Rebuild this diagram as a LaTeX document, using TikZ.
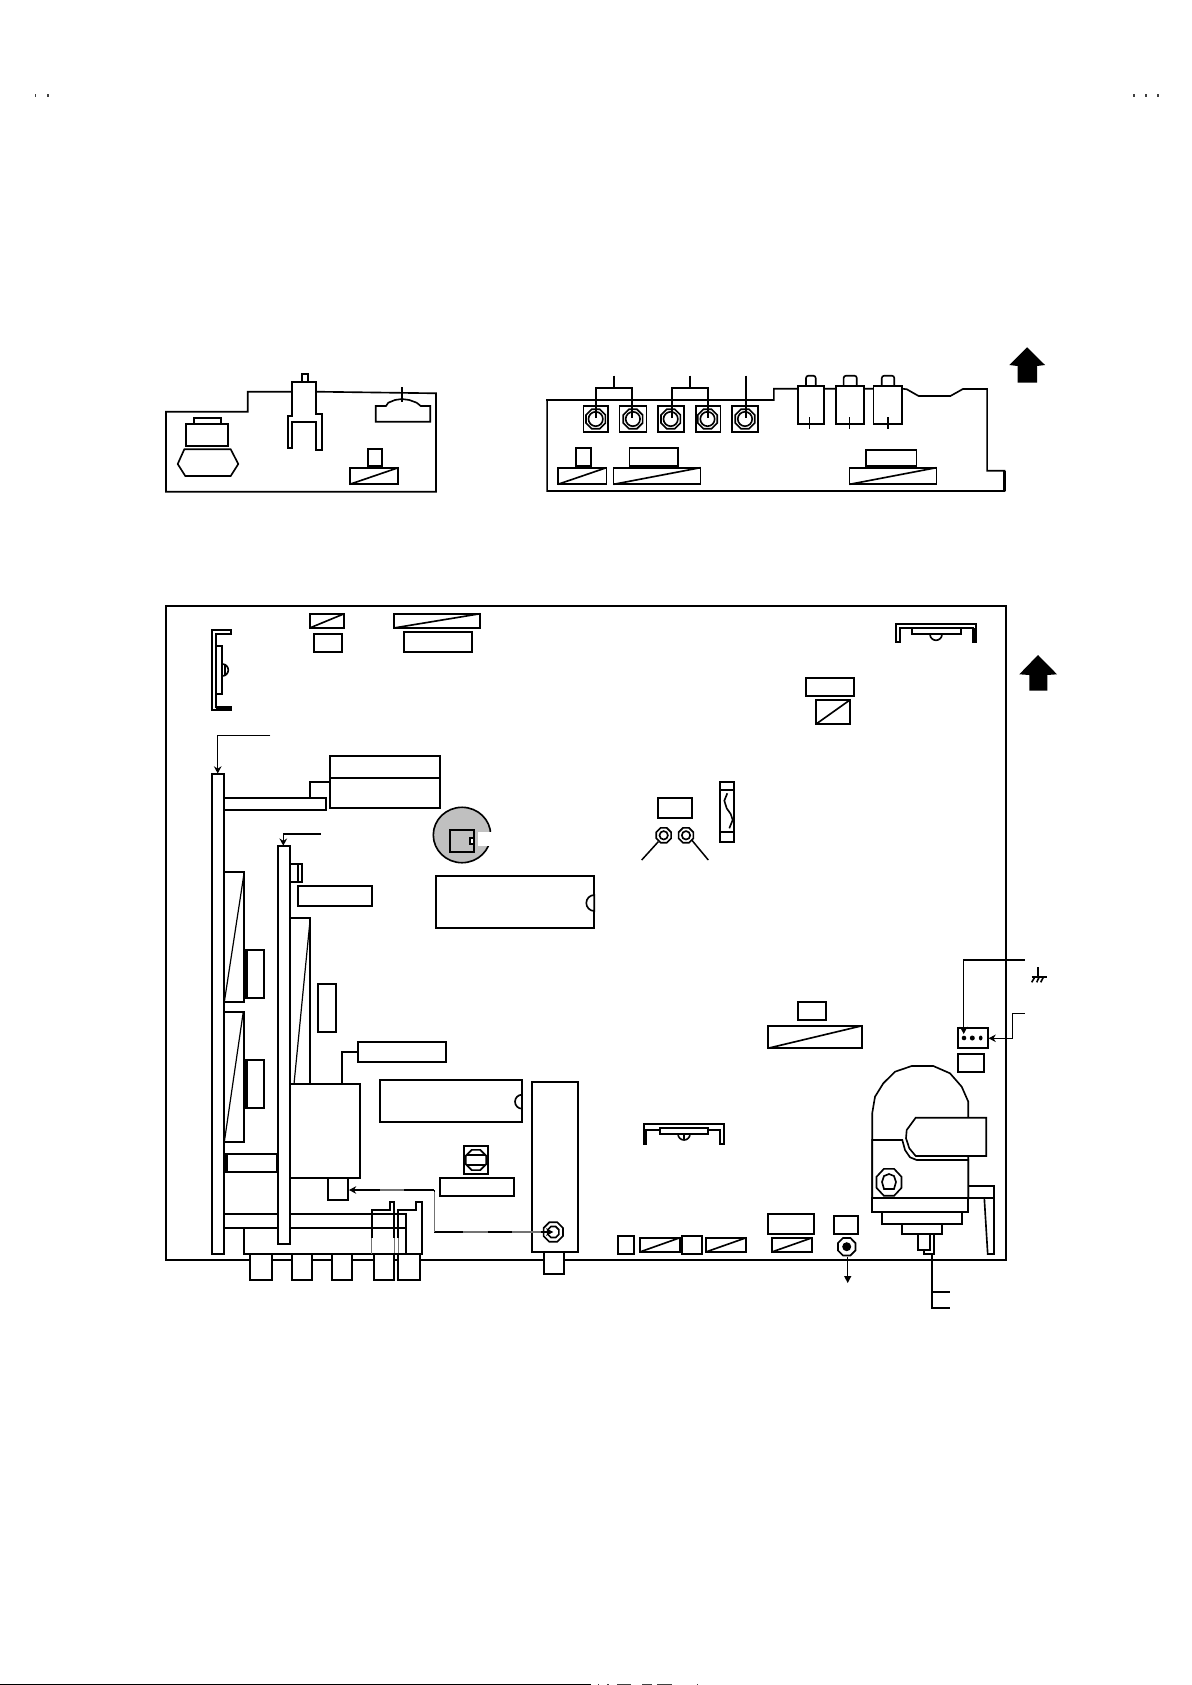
\documentclass[tikz,border=0pt]{standalone}
\usetikzlibrary{arrows.meta}
\definecolor{partgray}{HTML}{C0C0C0}
\tikzset{
  ln/.style={line width=0.82pt,line join=miter,line cap=butt},
  part/.style={ln,fill=white},
  wire/.style={line width=0.75pt},
  thin wire/.style={line width=0.6pt},
  gwire/.style={line width=0.75pt,draw=black!55},
  tip/.style={-{Stealth[length=3.6pt,width=3.8pt]},line width=0.75pt},
  speck/.style={fill=black!75,draw=none}
}
\newcommand{\bx}[4]{\draw[part] (#1,#2) rectangle (#3,#4);}
\newcommand{\dbx}[4]{\draw[part] (#1,#2) rectangle (#3,#4); \draw[ln] (#1,#4) -- (#3,#2);}
\newcommand{\octa}[3]{\draw[part] plot[samples at={0,45,...,315}] ({#1+#3*cos(\x+22.5)},{#2+#3*sin(\x+22.5)}) -- cycle;}
\newcommand{\jack}[3]{\bx{#1}{405.7}{#2}{432}
  \octa{#3}{419}{10.5}
  \draw[ln] (#3,419) circle[radius=7.2];}
\begin{document}
\begin{tikzpicture}[x=0.5pt,y=-0.5pt]
\useasboundingbox (0,0) rectangle (1191,1685);
% corner marks
\foreach \mx in {35.7,47.9,1134,1146,1158}{\fill[black!75] (\mx-0.6,94.5) rectangle (\mx+0.6,97.5);}
% bottom line and specks
\fill[black] (0,1683.7) rectangle (591,1685);
\foreach \sa/\sb in {597.5/599,607/609,617/631,642/652,657/672,696.5/698}{\fill[speck] (\sa,1684) rectangle (\sb,1685);}

% ---- left panel
\draw[ln] (291.7,391.7) -- (247.7,391.7) -- (247.7,411.7) -- (166,411.7) -- (166,491.7) -- (436,491.7) -- (436,393.3) -- (316,391.7);
\bx{193.7}{417.7}{220.7}{423.7}
\bx{185.7}{423.7}{228.3}{446}
\draw[part] (184.3,449.3) -- (230.7,449.3) -- (238.3,464) -- (230.7,476) -- (185.3,476) -- (177.7,464) -- cycle;
\draw[part] (301.7,381.7) -- (301.7,373.7) -- (308.3,373.7) -- (308.3,381.7);
\draw[part] (291.7,381.7) -- (316,381.7) -- (316,414) -- (322,414) -- (322,450) -- (316,450) -- (316,421.7) -- (292,421.7) -- (292,448) -- (287.7,448) -- (287.7,416) -- (291.7,416) -- cycle;
\draw[part] (375.7,406) -- (386,406) -- (388.3,402.7) -- (395,400) -- (401.7,399) -- (409.3,400) -- (416.7,402.7) -- (420.7,406) -- (430.3,406) -- (430.3,421.7) -- (375.7,421.7) -- cycle;
\draw[ln] (402,387.3) -- (402,402);
\bx{367.7}{449.3}{382.3}{466}
\dbx{349.7}{467.7}{398.3}{484.3}

% ---- right panel
\draw[ln] (546,400) -- (773.9,400) -- (773.9,388.7) -- (797.9,388.7) (823.9,388.7) -- (835.7,388.7) (864.3,388.7) -- (873.6,388.7) (902.1,388.7) -- (906.8,389.3) -- (918.6,396) -- (950.4,396) -- (962.9,389) -- (987.1,389) -- (987.1,470.7) -- (1004.6,470.7) -- (1004.6,491) -- (547.1,491) -- (547.1,400);
\draw[line width=1.2pt] (1004.6,470.7) -- (1004.6,491);
\jack{583.6}{608.2}{595.7}
\jack{619.6}{646.4}{632.9}
\jack{657.9}{684.3}{670.7}
\jack{695.7}{720.4}{707.5}
\jack{731.8}{758.2}{745}
\draw[wire] (596,418) -- (596,388) -- (631.8,388) -- (631.8,418);
\draw[wire] (613.9,375.7) -- (613.9,388);
\draw[wire] (671.8,418) -- (671.8,388) -- (707.9,388) -- (707.9,418);
\draw[wire] (690,375.7) -- (690,388);
\draw[wire] (746.1,375.7) -- (746.1,418);
\foreach \xa/\xb/\xc/\xd/\xp in {797.9/823.9/806/815.7/809.6,835.7/864.3/843.6/856.8/849.6,873.6/902.1/881.8/894.3/887.9}{
  \draw[ln,rounded corners=1.2pt] (\xc,386) -- (\xc,375.7) -- (\xd,375.7) -- (\xd,386);
  \bx{\xa}{386}{\xb}{424.3}
  \draw[ln] (\xp,417.3) -- (\xp,428.7);
}
\bx{575.7}{447.7}{590.7}{466}
\dbx{557.9}{467.7}{606.4}{484.3}
\bx{629.6}{447.7}{678.2}{466}
\dbx{613.6}{467.7}{700.4}{484.3}
\bx{865.7}{449.7}{916.4}{466}
\dbx{849.6}{467.7}{936.4}{484.3}
\fill[black] (1027.1,347.3) -- (1045,365) -- (1037.1,366) -- (1037.1,382.7) -- (1017.5,382.7) -- (1017.5,366) -- (1009.3,365) -- cycle;

% ---- main board
\draw[ln] (166,605.7) rectangle (1006,1260);
% top-left bracket
\draw[part] (230.7,629.7) -- (211.7,629.7) -- (211.7,710) -- (230.7,710) -- (230.7,707.3) -- (215.7,707.3) -- (215.7,633.7) -- (230.7,633.7) -- cycle;
\draw[line width=1.3pt] (215.7,708.8) -- (230.7,708.8);
\draw[ln] (222.3,664) arc[start angle=-90,end angle=90,radius=6];
\draw[ln] (225,664.7) -- (225,675.3);
\bx{215.7}{645.7}{222.3}{694.3}
% top boxes
\dbx{309.7}{613.7}{344.3}{628}
\bx{313.7}{633.7}{342.3}{652}
\dbx{393.7}{613.7}{480.3}{628}
\bx{403.7}{631.7}{472.3}{652}
% arrows to strips
\draw[tip] (270.3,735.7) -- (217.7,735.7) -- (217.7,773.5);
\draw[tip] (320.7,834) -- (283.3,834) -- (283.3,845.7);
% board pieces, left side
\bx{224.3}{797.7}{326}{810}
\draw[ln] (309.7,797.7) -- (309.7,781.7) -- (329.7,781.7);
\bx{329.7}{755.7}{440.3}{808}
\draw[ln] (329.7,778) -- (440.3,778);
\draw[part] (224.3,871.7) rectangle (244.3,1002);
\draw[thin wire] (224.3,1002) -- (244.3,871.7);
\bx{246.3}{950}{264.3}{998}
\draw[line width=1.2pt] (246.6,950) -- (246.6,998);
\draw[part] (224.3,1011.7) rectangle (244.3,1142);
\draw[thin wire] (224.3,1142) -- (243.3,1011.7);
\bx{246.3}{1060}{264.3}{1108}
\draw[line width=1.2pt] (246.6,1060) -- (246.6,1108);
\draw[part] (290.3,917.7) rectangle (310.3,1084);
\draw[thin wire] (294,1084) -- (310.3,917.7);
\bx{318}{983.7}{336}{1032}
\draw[ln] (341.7,1084) -- (341.7,1052) -- (357.7,1052);
\bx{357.7}{1042}{446.3}{1062}
\bx{290.3}{1084}{360.3}{1178}
\bx{328.3}{1178}{348.3}{1200}
\bx{290.3}{863.7}{302.3}{882}
\draw[ln] (298,863.7) -- (298,882);
\bx{297.7}{885.7}{372.3}{906}
\bx{226.3}{1154}{277}{1172}
\draw[line width=1.3pt] (226.3,1154) -- (226.3,1172) (277,1154) -- (277,1172);
% lower connector block
\draw[part] (224.3,1213.7) rectangle (406,1227.7);
\draw[ln] (244.3,1227.7) -- (244.3,1254) -- (371.7,1254);
\draw[ln] (406,1227.7) -- (406,1254);
\draw[ln] (371.7,1238) -- (371.7,1210) -- (390,1210) -- (390,1202) -- (394.3,1202) -- (394.3,1238);
\draw[ln] (398.3,1238) -- (398.3,1210) -- (416,1210) -- (416,1202) -- (422.3,1202) -- (422.3,1254) -- (371.7,1254);
\draw[gwire] (371.7,1238) -- (371.7,1254) (394.3,1238) -- (394.3,1254) (398.3,1238) -- (398.3,1254);
\bx{250}{1254}{272}{1280}
\bx{291.7}{1254}{312.3}{1280}
\bx{331.7}{1254}{352}{1280}
\bx{373.7}{1254}{394.3}{1280}
\bx{397.7}{1254}{420.3}{1280}
% strips
\bx{211.7}{773.7}{224.3}{1254}
\bx{277.7}{845.7}{290.3}{1244}
% gray disc
\draw[part,fill=partgray] (462,835) ellipse[x radius=28.7,y radius=27.7];
\fill[white] (477.8,831.7) rectangle (492,846);
\draw[ln,fill=partgray] (449.7,829.7) rectangle (474.3,852.3);
\bx{469.7}{837.7}{474.3}{844.3}
% ICs
\bx{435.7}{875.7}{594.3}{928}
\draw[part] (594.3,895) arc[start angle=-90,end angle=-270,radius=8] -- cycle;
\bx{380}{1080}{522}{1122}
\draw[part] (522,1094.7) arc[start angle=-90,end angle=-270,radius=7] -- cycle;
\bx{532}{1082}{578}{1252}
\bx{543.7}{1252}{564.3}{1274}
% fuse holder
\bx{463.7}{1146}{488.3}{1174}
\octa{476}{1160}{11}
\draw[ln] (466,1155) -- (486,1155) (466,1165) -- (486,1165);
\bx{439.7}{1178}{514.3}{1196}
\octa{553.3}{1232}{10.5}
\octa{553.3}{1232}{6}
% cross-reference arrow
\draw[tip] (434.3,1190) -- (349,1190);
\draw[wire] (434.3,1190) -- (434.3,1232);
\draw[tip] (434.3,1232) -- (553.3,1232);
\draw[gwire] (380,1190) -- (404,1190) (434.3,1192) -- (434.3,1232) (463,1232) -- (488,1232) (512,1232) -- (541,1232);
% mid bracket
\draw[part] (644,1144) -- (644,1123.7) -- (724,1123.7) -- (724,1144) -- (720,1144) -- (720,1130) -- (646,1130) -- (646,1144) -- cycle;
\draw[ln] (678,1134) arc[start angle=180,end angle=0,radius=6];
\draw[ln] (684,1134) -- (684,1139);
\bx{659.7}{1128}{708.3}{1134}
% right-top bracket
\draw[part] (895.7,642) -- (895.7,623.7) -- (976.3,623.7) -- (976.3,642) -- (973.3,642) -- (973.3,628.3) -- (900,628.3) -- (900,642) -- cycle;
\draw[line width=1.2pt] (975.4,628) -- (975.4,642);
\draw[ln] (930,634.3) arc[start angle=180,end angle=0,radius=6];
\bx{912}{628.3}{960.7}{634.3}
\bx{805.7}{677.7}{854.3}{696.3}
\dbx{815.7}{699.7}{850.3}{724.3}
\bx{657.7}{797.7}{692.3}{818.3}
% glass fuse
\bx{719.7}{781.7}{734.3}{842.3}
\draw[ln] (719.7,790.3) -- (734.3,790.3) (719.7,832.3) -- (734.3,832.3);
\draw[ln] (727.3,793.3) -- (724.3,800.7) -- (726.7,808.3) -- (730.7,814) -- (732.7,820) -- (729.3,828.3);
% two studs
\octa{663.7}{835.3}{8}
\draw[ln] (663.7,835.3) circle[radius=4.2];
\octa{686}{835.3}{8}
\draw[ln] (686,835.3) circle[radius=4.2];
\draw[wire] (658.3,841.7) -- (641.7,860);
\draw[wire] (691.7,840) -- (708.3,860);
% arrow mark
\fill[black] (1038,655) -- (1057,674.3) -- (1047.3,675) -- (1047.3,690.7) -- (1029.3,690.7) -- (1029.3,675) -- (1019.3,674.3) -- cycle;
% lower right boxes
\bx{797.7}{1001.7}{826.3}{1020.3}
\dbx{767.7}{1025.7}{862.3}{1048.3}
\bx{957.7}{1027.7}{988.3}{1048}
\fill (964,1038) circle[radius=2.3] (972.3,1038) circle[radius=2.5] (980.7,1038) ellipse[x radius=1.8,y radius=2.5];
\bx{957.7}{1053.7}{984.3}{1072.3}
\draw[tip] (1024.7,960) -- (963.7,960) -- (963.7,1034);
\draw[tip] (1024.7,1013.7) -- (1012.3,1013.7) -- (1012.3,1038.3) -- (988.6,1038.3);
% ground symbol
\draw[ln] (1038.3,967.3) -- (1038.3,976.7) (1031.7,976.7) -- (1046.7,976.7);
\draw[ln] (1031.7,982.3) -- (1035,976.7) (1036.7,982.3) -- (1039,977.3) (1040.7,982.3) -- (1043.3,977.3);
% bottom row
\bx{617.7}{1235.7}{634.3}{1254}
\dbx{639.7}{1237.7}{680}{1252}
\bx{681.7}{1235.7}{702.3}{1254}
\dbx{705.7}{1237.7}{746.3}{1252}
\bx{767.7}{1213.7}{814.3}{1234}
\dbx{771.7}{1237.7}{812.3}{1252}
\bx{833.7}{1215.7}{858.3}{1234}
\octa{846.7}{1246.7}{9.5}
\fill (846.7,1246.7) circle[radius=4.5];
\draw[wire] (847.7,1256.7) -- (847.7,1276);
\fill[black] (844,1276) -- (851.4,1276) -- (847.7,1283) -- cycle;
% motor
\draw[ln] (932,1254) -- (932,1308) -- (950,1308) (932,1291.7) -- (950,1291.7);
\draw[ln] (968.3,1186) -- (994,1186) -- (994,1254) -- (987.7,1254) -- (984.3,1198.3);
\draw[ln] (968.3,1198.3) -- (994,1198.3);
\draw[part] (872.3,1198.3) -- (872.3,1112.7) -- (875,1096.7) -- (883.3,1083.3) -- (895,1071.7) -- (911.7,1066) -- (933.3,1066) -- (950,1073.3) -- (961.7,1086.7) -- (968.3,1101.7) -- (968.3,1198.3) -- cycle;
\draw[part] (872.3,1140) -- (902.3,1140) -- (905,1150) -- (910,1157.3) -- (916.7,1160) -- (968.3,1160) -- (968.3,1198.3) -- (872.3,1198.3) -- cycle;
\draw[part] (915.7,1117.7) -- (986.3,1117.7) -- (986.3,1156) -- (915.7,1156) -- (909.3,1148.3) -- (906,1138.3) -- (906.7,1130) -- cycle;
\draw[part] plot[samples at={0,45,...,315}] ({889+13.5*cos(\x+22.5)},{1182.3+14.5*sin(\x+22.5)}) -- cycle;
\draw[part] (889,1174) -- (894,1176) -- (896,1182) -- (894,1189) -- (884,1189) -- (882,1182) -- (884,1176) -- cycle;
\bx{872.3}{1198.3}{968.3}{1212}
\bx{882.3}{1212}{962}{1224}
\bx{902.3}{1224}{942}{1234}
\bx{917.7}{1234}{930}{1250}
\draw[ln] (934,1234) -- (934,1254) -- (924,1254) -- (924,1250);
\end{tikzpicture}
\end{document}
